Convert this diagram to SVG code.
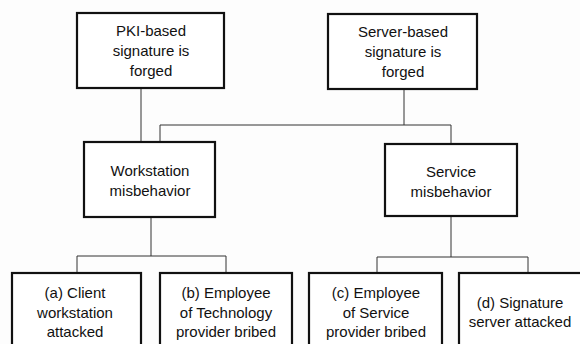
<svg xmlns="http://www.w3.org/2000/svg" width="580" height="344" viewBox="0 0 580 344">
<style>
.box{fill:#fff;stroke:#111;stroke-width:2.2}
.c{fill:none;stroke:#333;stroke-width:1}
text{font-family:"Liberation Sans",Arial,sans-serif;font-size:15px;fill:#111;text-anchor:middle}
</style>
<rect width="580" height="344" fill="#fdfdfd"/>
<g id="connectors">
<path class="c" d="M141,88 V142"/>
<path class="c" d="M404,89 V125 M160,142 V125 H451 V144"/>
<path class="c" d="M151,217 V256 M77,273 V256 H226 V273"/>
<path class="c" d="M451,216 V257 M377,273 V257 H528 V273"/>
</g>
<g id="pki"><rect class="box" x="77" y="13" width="147" height="75"/>
<text x="151" y="36">PKI-based</text><text x="151" y="56">signature is</text><text x="151" y="76">forged</text></g>
<g id="server"><rect class="box" x="328" y="14" width="149" height="75"/>
<text x="403" y="37">Server-based</text><text x="403" y="57">signature is</text><text x="403" y="77">forged</text></g>
<g id="workstation"><rect class="box" x="84" y="142" width="131" height="75"/>
<text x="150" y="176">Workstation</text><text x="150" y="196">misbehavior</text></g>
<g id="service"><rect class="box" x="385" y="144" width="132" height="72"/>
<text x="451" y="177">Service</text><text x="451" y="197">misbehavior</text></g>
<g id="a"><rect class="box" x="12" y="273" width="129" height="80"/>
<text x="75" y="298">(a) Client</text><text x="75" y="318">workstation</text><text x="75" y="337">attacked</text></g>
<g id="b"><rect class="box" x="160" y="273" width="132" height="80"/>
<text x="226" y="298">(b) Employee</text><text x="226" y="318">of Technology</text><text x="226" y="337">provider bribed</text></g>
<g id="c"><rect class="box" x="309" y="273" width="133" height="80"/>
<text x="376" y="298">(c) Employee</text><text x="376" y="318">of Service</text><text x="376" y="337">provider bribed</text></g>
<g id="d"><rect class="box" x="459" y="273" width="130" height="80"/>
<text x="520" y="308">(d) Signature</text><text x="520" y="327">server attacked</text></g>
</svg>
